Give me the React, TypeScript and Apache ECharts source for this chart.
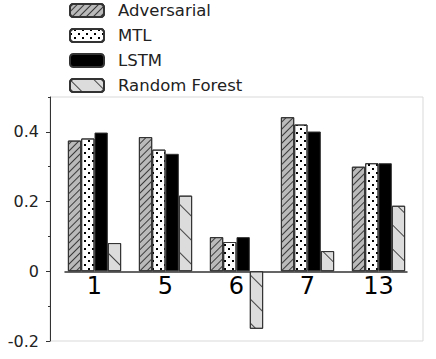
import React, { useEffect, useRef } from "react";
import * as echarts from "echarts";

const categories = ["1", "5", "6", "7", "13"];
const seriesNames = ["Adversarial", "MTL", "LSTM", "Random Forest"];
const adversarial = [0.375, 0.385, 0.098, 0.442, 0.300];
const mtl = [0.381, 0.349, 0.084, 0.421, 0.310];
const lstm = [0.398, 0.337, 0.098, 0.401, 0.310];
const randomForest = [0.081, 0.217, -0.165, 0.058, 0.188];
const majorTicks = [-0.2, 0, 0.2, 0.4];
const yMin = -0.2;
const yMax = 0.5;

const FONT = "DejaVu Sans";

export default function App() {
  const ref = useRef<HTMLDivElement>(null);
  useEffect(() => {
    document.body.style.margin = "0";
    const chart = echarts.init(ref.current!, null, { renderer: "svg" });
    const top = 97;
    const bottom = 18;
    const border = "#333333";
    const values = [adversarial, mtl, lstm, randomForest];
    const styles: any[] = [
      {
        color: "#bababa",
        borderColor: border,
        borderWidth: 1,
        decal: {
          symbol: "rect",
          symbolSize: 1,
          color: "#3a3a3a",
          dashArrayX: [1, 0],
          dashArrayY: [1, 4],
          rotation: -Math.PI / 4,
        },
      },
      {
        color: "#ffffff",
        borderColor: border,
        borderWidth: 1,
        decal: {
          symbol: "rect",
          symbolSize: 1,
          color: "#000000",
          dashArrayX: [
            [1.5, 5.5],
            [0, 3.5, 1.5, 2],
          ],
          dashArrayY: [1.5, 1.7],
          rotation: 0,
        },
      },
      { color: "#000000", borderColor: border, borderWidth: 1 },
      {
        color: "#dcdcdc",
        borderColor: border,
        borderWidth: 1,
        decal: {
          symbol: "rect",
          symbolSize: 1,
          color: "#444444",
          dashArrayX: [1, 0],
          dashArrayY: [1, 16],
          rotation: Math.PI / 4,
        },
      },
    ];
    const hiddenY = (gridIndex: number) => ({
      type: "value",
      gridIndex,
      min: yMin,
      max: yMax,
      interval: 0.1,
      show: false,
      splitLine: { show: false },
    });
    chart.setOption({
      animation: false,
      legend: {
        orient: "vertical",
        left: 69,
        top: 2,
        padding: 0,
        itemWidth: 34,
        itemHeight: 13,
        itemGap: 8,
        data: seriesNames,
        textStyle: {
          fontFamily: FONT,
          fontSize: 16.5,
          color: "#222",
          padding: [0, 0, 0, 9],
        },
      },
      grid: [
        { left: 50, right: 13, top, bottom, show: true, borderColor: "#d9d9d9", borderWidth: 1, outerBoundsMode: "none" },
        { left: 59, right: 22, top, bottom, outerBoundsMode: "none" },
        { left: 65, right: 29, top, bottom, outerBoundsMode: "none" },
      ],
      xAxis: [
        { type: "category", gridIndex: 0, data: [""], show: false },
        {
          type: "category",
          gridIndex: 1,
          data: categories,
          axisLine: { show: false, onZero: false },
          axisTick: { show: false },
          axisLabel: { fontFamily: FONT, fontSize: 24, color: "#000", margin: -67 },
        },
        {
          type: "category",
          gridIndex: 2,
          data: [""],
          axisLine: { show: true, onZero: true, lineStyle: { color: "#333", width: 1.5 } },
          axisTick: { show: false },
          axisLabel: { show: false },
        },
      ],
      yAxis: [
        {
          type: "value",
          gridIndex: 0,
          position: "left",
          min: yMin,
          max: yMax,
          interval: 0.2,
          splitLine: { show: false },
          axisLine: { show: true, lineStyle: { color: "#333", width: 1 } },
          axisTick: { show: true, length: 4, customValues: majorTicks, lineStyle: { color: "#333" } },
          axisLabel: {
            customValues: majorTicks,
            fontFamily: FONT,
            fontSize: 16,
            color: "#222",
            margin: 11,
          },
        },
        {
          type: "value",
          gridIndex: 0,
          position: "left",
          offset: 0,
          min: yMin,
          max: yMax,
          interval: 0.1,
          splitLine: { show: false },
          axisLine: { show: false },
          axisTick: { show: true, length: 2, lineStyle: { color: "#333" } },
          axisLabel: { show: false },
        },
        hiddenY(1),
        hiddenY(2),
      ],
      series: [
        ...seriesNames.map((name, i) => ({
          name,
          type: "bar",
          xAxisIndex: 1,
          yAxisIndex: 2,
          data: values[i],
          barGap: "0%",
          barCategoryGap: "25%",
          itemStyle: styles[i],
        })),
        { type: "line", xAxisIndex: 2, yAxisIndex: 3, data: [0], symbol: "none", lineStyle: { opacity: 0 }, silent: true },
      ],
    });
    return () => chart.dispose();
  }, []);
  return (
    <div
      ref={ref}
      style={{ position: "absolute", left: 0, top: 0, width: 436, height: 359 }}
    />
  );
}
